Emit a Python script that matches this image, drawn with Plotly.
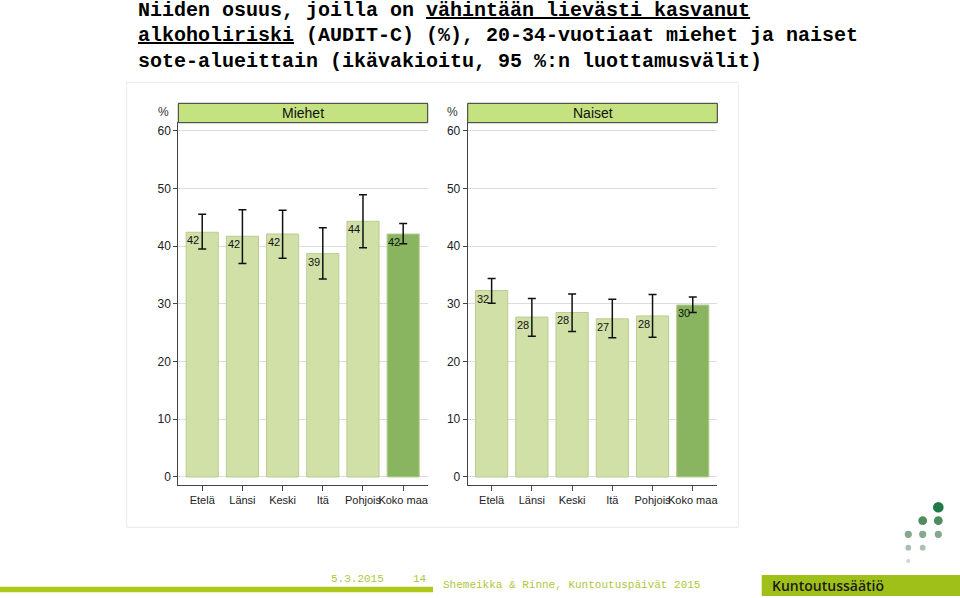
import plotly.graph_objects as go

categories = ["Etelä", "Länsi", "Keski", "Itä", "Pohjois", "Koko maa"]
men_values = [42.4, 41.7, 42.1, 38.7, 44.3, 42.1]
men_lower = [39.5, 37.0, 37.9, 34.3, 39.7, 40.4]
men_upper = [45.5, 46.3, 46.2, 43.2, 48.9, 43.9]
women_values = [32.3, 27.7, 28.5, 27.4, 27.9, 29.8]
women_lower = [30.1, 24.4, 25.2, 24.1, 24.2, 28.5]
women_upper = [34.4, 30.9, 31.7, 30.8, 31.6, 31.2]
y_ticks = [0, 10, 20, 30, 40, 50, 60]
panel_titles = ["Miehet", "Naiset"]

W, H = 960, 598
def px(x):
    return x / W
def py(y):
    return 1 - y / H

LIGHT = "#d0e0a6"
DARK = "#89b560"
colors = [LIGHT] * 5 + [DARK]

fig = go.Figure()
panels = [
    (men_values, men_lower, men_upper, "x", "y", 178.3, 427.7),
    (women_values, women_lower, women_upper, "x2", "y2", 467.7, 717.3),
]
annotations = []
shapes = []

# outer graph region box
shapes.append(dict(type="rect", xref="paper", yref="paper",
                   x0=px(126.7), x1=px(738.3), y0=py(527.3), y1=py(82.3),
                   line=dict(color="#ececec", width=1), fillcolor="rgba(0,0,0,0)", layer="below"))

for pi, (vals, lo, hi, xa, ya, xl, xr) in enumerate(panels):
    fig.add_trace(go.Bar(
        x=list(range(len(categories))), y=vals, xaxis=xa, yaxis=ya,
        width=0.8,
        marker=dict(color=colors, line=dict(color="#b9cc93", width=1)),
        error_y=dict(type="data", symmetric=False,
                     array=[h - v for h, v in zip(hi, vals)],
                     arrayminus=[v - l for v, l in zip(vals, lo)],
                     color="#111111", thickness=1.5, width=4),
        showlegend=False, hoverinfo="skip",
    ))
    for i, v in enumerate(vals):
        annotations.append(dict(x=i - 0.42, y=v, xref=xa, yref=ya,
                                text=str(round(v)), showarrow=False,
                                xanchor="left", yanchor="top",
                                font=dict(family="Liberation Sans, Arial", size=11, color="#111111")))
    # strip header
    shapes.append(dict(type="rect", xref="paper", yref="paper",
                       x0=px(xl), x1=px(xr), y0=py(122.7), y1=py(103.3),
                       fillcolor="#c4e27f", line=dict(color="#333333", width=1)))
    annotations.append(dict(x=px((xl + xr) / 2), y=py(113), xref="paper", yref="paper",
                            text=panel_titles[pi], showarrow=False, xanchor="center", yanchor="middle",
                            font=dict(family="Liberation Sans, Arial", size=14, color="#111111")))
    annotations.append(dict(x=px(xl - 15), y=py(112), xref="paper", yref="paper",
                            text="%", showarrow=False, xanchor="center", yanchor="middle",
                            font=dict(family="Liberation Sans, Arial", size=12, color="#333333")))

yaxis_common = dict(range=[-1.39, 61.5], tickvals=y_ticks, showgrid=True, gridcolor="#dcdcdc",
                    gridwidth=1, zeroline=False, showline=True, linecolor="#444444", linewidth=1,
                    ticks="outside", ticklen=4, tickcolor="#444444",
                    tickfont=dict(family="Liberation Sans, Arial", size=12, color="#222222"),
                    domain=[py(485), py(122)], fixedrange=True)
xaxis_common = dict(range=[-0.595, 5.61], tickvals=list(range(len(categories))), ticktext=categories,
                    showgrid=False, zeroline=False, showline=True, linecolor="#444444", linewidth=1,
                    ticks="outside", ticklen=5, tickcolor="#444444", tickangle=0,
                    tickfont=dict(family="Liberation Sans, Arial", size=11, color="#222222"),
                    fixedrange=True)

fig.update_layout(
    xaxis=dict(xaxis_common, domain=[px(178.3), px(427.7)], anchor="y"),
    yaxis=dict(yaxis_common, anchor="x"),
    xaxis2=dict(xaxis_common, domain=[px(467.7), px(717.3)], anchor="y2"),
    yaxis2=dict(yaxis_common, anchor="x2"),
)

# title
title_lines = [
    "Niiden osuus, joilla on <u>vähintään lievästi kasvanut</u>",
    "<u>alkoholiriski</u> (AUDIT-C) (%), 20-34-vuotiaat miehet ja naiset",
    "sote-alueittain (ikävakioitu, 95 %:n luottamusvälit)",
]
for k, t in enumerate(title_lines):
    annotations.append(dict(x=px(136), y=py(11 + 25 * k), xref="paper", yref="paper",
                            text="<b>" + t + "</b>", showarrow=False, xanchor="left", yanchor="middle",
                            font=dict(family="Liberation Mono, Courier New", size=20, color="#000000")))

# footer
FOOT = "#afc81c"
shapes.append(dict(type="rect", xref="paper", yref="paper", x0=0, x1=px(433),
                   y0=py(592.3), y1=py(586.7), fillcolor=FOOT, line=dict(width=0)))
shapes.append(dict(type="rect", xref="paper", yref="paper", x0=px(761.7), x1=1,
                   y0=py(596), y1=py(575), fillcolor="#9fc018", line=dict(width=0)))
foot_font = dict(family="Liberation Mono, Courier New", size=11, color="#aec73a")
annotations.append(dict(x=px(329), y=py(579), xref="paper", yref="paper", text="5.3.2015",
                        showarrow=False, xanchor="left", yanchor="middle", font=foot_font))
annotations.append(dict(x=px(411), y=py(579), xref="paper", yref="paper", text="14",
                        showarrow=False, xanchor="left", yanchor="middle", font=foot_font))
annotations.append(dict(x=px(441), y=py(585), xref="paper", yref="paper",
                        text="Shemeikka &amp; Rinne, Kuntoutuspäivät 2015",
                        showarrow=False, xanchor="left", yanchor="middle", font=foot_font))
annotations.append(dict(x=px(770), y=py(585.5), xref="paper", yref="paper", text="Kuntoutussäätiö",
                        showarrow=False, xanchor="left", yanchor="middle",
                        font=dict(family="Open Sans, Noto Sans", size=14, color="#1a1a1a", weight=600)))

# logo dots
dots = [
    (938.3, 507.3, 5.3, "#1f7a45"),
    (922.7, 520.7, 4.4, "#4f8c5e"), (938.3, 520.7, 4.4, "#4f8c5e"),
    (908.3, 534.3, 3.6, "#82a98c"), (922.7, 534.3, 3.6, "#82a98c"), (938.3, 534.3, 3.6, "#82a98c"),
    (908.3, 547.7, 2.9, "#a9c2b0"), (922.7, 547.7, 2.9, "#a9c2b0"),
    (908.3, 561.0, 2.1, "#ccd9cf"),
]
for cx, cy, r, c in dots:
    shapes.append(dict(type="circle", xref="paper", yref="paper",
                       x0=px(cx - r), x1=px(cx + r), y0=py(cy + r), y1=py(cy - r),
                       fillcolor=c, line=dict(width=0)))

fig.update_layout(
    width=W, height=H, margin=dict(l=0, r=0, t=0, b=0), autosize=False,
    paper_bgcolor="white", plot_bgcolor="white",
    annotations=annotations, shapes=shapes, bargap=0.2, showlegend=False,
)

fig.write_html(
    "out.html",
    config={"responsive": False, "displayModeBar": False},
    post_script="document.body.style.margin='0';document.body.style.overflow='hidden';",
)
